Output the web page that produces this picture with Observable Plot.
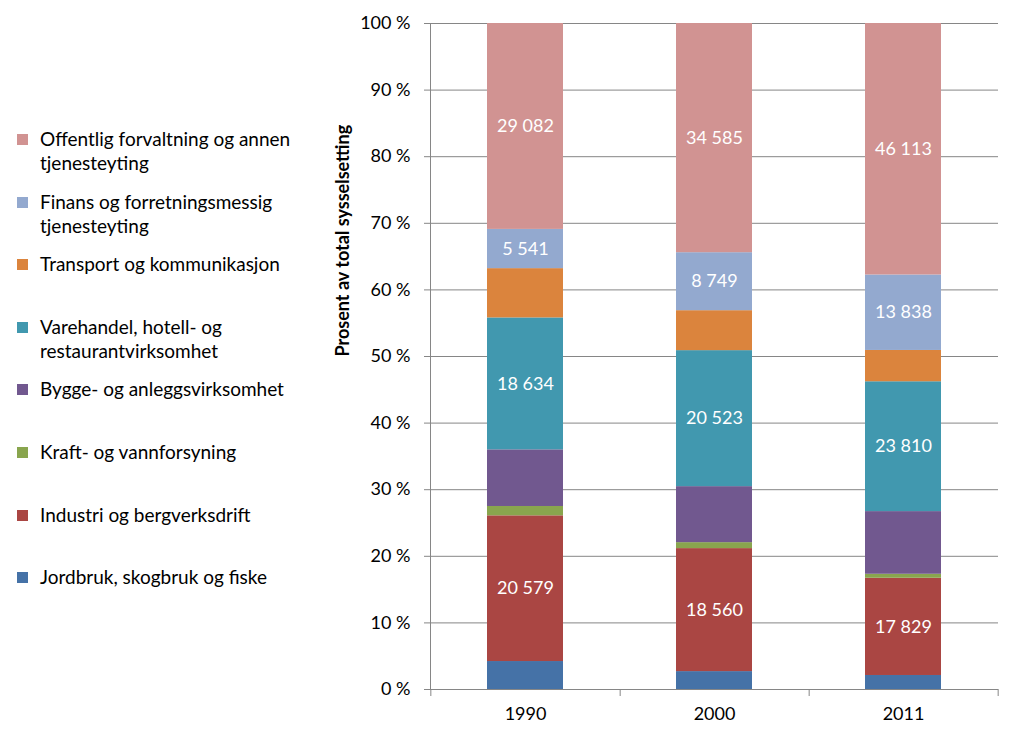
<!DOCTYPE html>
<html>
<head>
<meta charset="utf-8">
<script src="https://cdn.jsdelivr.net/npm/d3@7"></script>
<script src="https://cdn.jsdelivr.net/npm/@observablehq/plot@0.6"></script>
<style>
  html, body { margin: 0; padding: 0; background: #fff; }
  #wrap { display: flex; width: 1021px; height: 742px; font-family: Lato, "Open Sans", sans-serif; }
  #legend { position: relative; width: 330px; height: 742px; flex: none; }
  .item { position: absolute; left: 0; display: flex; align-items: flex-start; }
  .sw { width: 11px; height: 11px; margin: 7px 12px 0 17px; flex: none; }
  .lab { font-size: 19px; line-height: 24px; color: #000; width: 285px; }
</style>
</head>
<body>
<div id="wrap"><div id="legend"></div><div id="chart"></div></div>
<script>
const years = ["1990", "2000", "2011"];
const sectors = [
  "Jordbruk, skogbruk og fiske",
  "Industri og bergverksdrift",
  "Kraft- og vannforsyning",
  "Bygge- og anleggsvirksomhet",
  "Varehandel, hotell- og restaurantvirksomhet",
  "Transport og kommunikasjon",
  "Finans og forretningsmessig tjenesteyting",
  "Offentlig forvaltning og annen tjenesteyting"
];
const colors = ["#4572A7", "#AA4643", "#89A54E", "#71588F", "#4198AF", "#DB843D", "#93A9CF", "#D19392"];
const v1990 = [3950, 20579, 1320, 8000, 18634, 6960, 5541, 29082];
const v2000 = [2700, 18560, 900, 8450, 20523, 6030, 8749, 34585];
const v2011 = [2570, 17829, 730, 11490, 23810, 5740, 13838, 46113];
const labelled = [false, true, false, false, true, false, true, true];
const yTicks = [0, 0.1, 0.2, 0.3, 0.4, 0.5, 0.6, 0.7, 0.8, 0.9, 1];
const yTitle = "Prosent av total sysselsetting";

const series = {"1990": v1990, "2000": v2000, "2011": v2011};
const data = [];
for (const y of years) sectors.forEach((s, i) => data.push({year: y, sector: s, value: series[y][i], label: labelled[i]}));

const fmt = v => d3.format(",")(v).replace(/,/g, " ");

const W = 691, H = 742, ml = 100, mr = 23, mt = 23, mb = 53;
const step = (W - ml - mr) / years.length;

const chart = Plot.plot({
  width: W, height: H,
  marginLeft: ml, marginRight: mr, marginTop: mt, marginBottom: mb,
  style: {fontFamily: "Lato, 'Open Sans', sans-serif", fontSize: "18px", color: "#000", background: "#fff"},
  x: {domain: years, paddingInner: 0.6, paddingOuter: 0.3},
  y: {domain: [0, 1]},
  color: {domain: sectors, range: colors},
  marks: [
    Plot.gridY(yTicks, {stroke: "#868686", strokeOpacity: 1}),
    Plot.barY(data, Plot.stackY({offset: "normalize", x: "year", y: "value", fill: "sector", z: "sector"})),
    Plot.text(data, Plot.stackY({offset: "normalize", x: "year", y: "value", z: "sector",
      text: d => d.label ? fmt(d.value) : null, fill: "white", fontSize: 18})),
    Plot.frame({anchor: "left", stroke: "#868686"}),
    Plot.axisY(yTicks, {tickSize: 6, tickPadding: 14, stroke: "#868686", fill: "#000", fontSize: 18,
      tickFormat: d => `${Math.round(d * 100)} %`, label: null}),
    Plot.axisX({tickSize: 7, dx: step / 2, tickFormat: () => "", stroke: "#868686", label: null}),
    Plot.axisX([years[0]], {tickSize: 7, dx: -step / 2, tickFormat: () => "", stroke: "#868686", label: null}),
    Plot.axisX({tickSize: 0, tickPadding: 18, fontSize: 18, fill: "#000", label: null}),
    Plot.text([yTitle], {frameAnchor: "left", rotate: -90, dx: -87, fontWeight: "bold", fontSize: 18, fill: "#000"})
  ]
});
document.getElementById("chart").appendChild(chart);

const legend = document.getElementById("legend");
const order = sectors.map((s, i) => i).reverse();
order.forEach((i, k) => {
  const it = document.createElement("div");
  it.className = "item";
  it.style.top = (127 + k * 62.6) + "px";
  const sw = document.createElement("div");
  sw.className = "sw";
  sw.style.background = colors[i];
  const lab = document.createElement("div");
  lab.className = "lab";
  lab.textContent = sectors[i];
  it.appendChild(sw); it.appendChild(lab);
  legend.appendChild(it);
});
</script>
</body>
</html>
